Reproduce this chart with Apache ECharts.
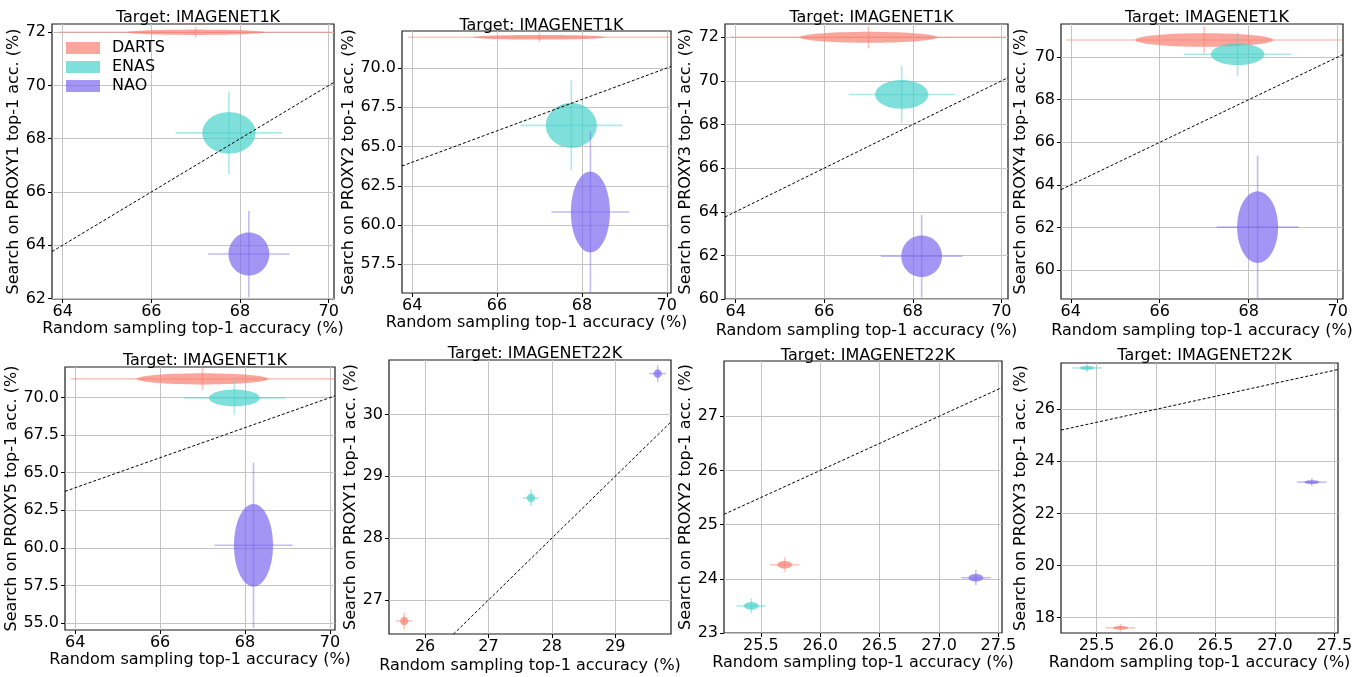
<!DOCTYPE html>
<html><head><meta charset="utf-8">
<script src="https://cdn.jsdelivr.net/npm/echarts@6/dist/echarts.min.js"></script>
<style>html,body{margin:0;padding:0;background:#fff}#c{width:1366px;height:677px}</style>
</head><body><div id="c"></div>
<script>
// ---------- data ----------
const methods = ['DARTS', 'ENAS', 'NAO'];
const targets = ['IMAGENET1K','IMAGENET1K','IMAGENET1K','IMAGENET1K','IMAGENET1K','IMAGENET22K','IMAGENET22K','IMAGENET22K'];
const proxies = ['PROXY1','PROXY2','PROXY3','PROXY4','PROXY5','PROXY1','PROXY2','PROXY3'];

// random sampling top-1 accuracy (x), mean and std per method
const rand1kMean = [67.0, 67.75, 68.2];
const rand1kStd = [1.55, 0.6, 0.46];
const rand22kProxy1Mean = [25.67, 27.67, 29.67];
const rand22kProxy1Std = [0.065, 0.065, 0.065];
const rand22kMean = [25.70, 25.42, 27.31];
const rand22kStd = [0.062, 0.062, 0.062];

// search on proxy top-1 accuracy (y), mean and std per method
const search1kP1Mean = [72.0, 68.22, 63.67];
const search1kP1Std = [0.1, 0.78, 0.81];
const search1kP2Mean = [71.96, 66.35, 60.83];
const search1kP2Std = [0.15, 1.43, 2.57];
const search1kP3Mean = [72.0, 69.38, 61.96];
const search1kP3Std = [0.25, 0.66, 0.95];
const search1kP4Mean = [70.8, 70.13, 62.02];
const search1kP4Std = [0.32, 0.51, 1.68];
const search1kP5Mean = [71.25, 69.98, 60.17];
const search1kP5Std = [0.37, 0.56, 2.75];
const search22kP1Mean = [26.66, 28.65, 30.66];
const search22kP1Std = [0.068, 0.068, 0.068];
const search22kP2Mean = [24.26, 23.50, 24.02];
const search22kP2Std = [0.07, 0.07, 0.07];
const search22kP3Mean = [17.6, 27.59, 23.2];
const search22kP3Std = [0.076, 0.076, 0.076];

// tick labels
const xTicks1k = [64, 66, 68, 70];
const xTicks22kP1 = [26, 27, 28, 29];
const xTicks22k = [25.5, 26.0, 26.5, 27.0, 27.5];
const yTicksP1 = [62, 64, 66, 68, 70, 72];
const yTicksP2 = [57.5, 60.0, 62.5, 65.0, 67.5, 70.0];
const yTicksP3 = [60, 62, 64, 66, 68, 70, 72];
const yTicksP4 = [60, 62, 64, 66, 68, 70];
const yTicksP5 = [55.0, 57.5, 60.0, 62.5, 65.0, 67.5, 70.0];
const yTicks22kP1 = [27, 28, 29, 30];
const yTicks22kP2 = [23, 24, 25, 26, 27];
const yTicks22kP3 = [18, 20, 22, 24, 26];

// ---------- panel configuration ----------
const panels = [
  {xm: rand1kMean, xs: rand1kStd, ym: search1kP1Mean, ys: search1kP1Std, xr:[63.76,70.12], yr:[61.98,72.31], xt: xTicks1k, yt: yTicksP1, xd:0, yd:0},
  {xm: rand1kMean, xs: rand1kStd, ym: search1kP2Mean, ys: search1kP2Std, xr:[63.76,70.10], yr:[55.67,72.36], xt: xTicks1k, yt: yTicksP2, xd:0, yd:1},
  {xm: rand1kMean, xs: rand1kStd, ym: search1kP3Mean, ys: search1kP3Std, xr:[63.76,70.15], yr:[60.0,72.61], xt: xTicks1k, yt: yTicksP3, xd:0, yd:0},
  {xm: rand1kMean, xs: rand1kStd, ym: search1kP4Mean, ys: search1kP4Std, xr:[63.78,70.12], yr:[58.65,71.55], xt: xTicks1k, yt: yTicksP4, xd:0, yd:0},
  {xm: rand1kMean, xs: rand1kStd, ym: search1kP5Mean, ys: search1kP5Std, xr:[63.76,70.12], yr:[54.53,72.04], xt: xTicks1k, yt: yTicksP5, xd:0, yd:1},
  {xm: rand22kProxy1Mean, xs: rand22kProxy1Std, ym: search22kP1Mean, ys: search22kP1Std, xr:[25.43,29.88], yr:[26.45,30.88], xt: xTicks22kP1, yt: yTicks22kP1, xd:0, yd:0},
  {xm: rand22kMean, xs: rand22kStd, ym: search22kP2Mean, ys: search22kP2Std, xr:[25.19,27.53], yr:[23.0,28.02], xt: xTicks22k, yt: yTicks22kP2, xd:1, yd:0},
  {xm: rand22kMean, xs: rand22kStd, ym: search22kP3Mean, ys: search22kP3Std, xr:[25.2,27.53], yr:[17.4,27.78], xt: xTicks22k, yt: yTicks22kP3, xd:1, yd:0}
];
// layout: [left, top, width, height, xNameGap, yNameGap, titleTop]
const layout = [
  [52, 24, 282, 275, 22, 29, 5],
  [402, 31, 269, 262, 21, 42, 13],
  [725, 24, 283, 275, 24, 31, 5],
  [1061, 24, 282, 275, 24, 32, 5],
  [65, 367, 270, 263, 20, 42, 348],
  [389, 360, 282, 274, 24, 29, 341],
  [724, 361, 278, 272, 22, 29, 343],
  [1061, 363, 277, 270, 20, 32, 343]
];

const fills = ['rgba(250,128,114,0.7)', 'rgba(72,209,204,0.7)', 'rgba(123,104,238,0.7)'];
const errs = ['rgba(250,128,114,0.45)', 'rgba(72,209,204,0.45)', 'rgba(123,104,238,0.45)'];
const FONT = 'DejaVu Sans';

function makeRender(mi) {
  return function (params, api) {
    const cx = api.value(0), cy = api.value(1), sx = api.value(2), sy = api.value(3);
    const pts = [];
    for (let k = 0; k < 72; k++) {
      const t = 2 * Math.PI * k / 72;
      pts.push(api.coord([cx + sx * Math.cos(t), cy + sy * Math.sin(t)]));
    }
    const l = api.coord([cx - 2 * sx, cy]), r = api.coord([cx + 2 * sx, cy]);
    const b = api.coord([cx, cy - 2 * sy]), tp = api.coord([cx, cy + 2 * sy]);
    return {
      type: 'group',
      children: [
        {type: 'line', shape: {x1: l[0], y1: l[1], x2: r[0], y2: r[1]}, style: {stroke: errs[mi], lineWidth: 1.6}},
        {type: 'line', shape: {x1: b[0], y1: b[1], x2: tp[0], y2: tp[1]}, style: {stroke: errs[mi], lineWidth: 1.6}},
        {type: 'polygon', shape: {points: pts}, style: {fill: fills[mi], stroke: null}}
      ]
    };
  };
}

const grid = [], xAxis = [], yAxis = [], series = [], title = [];
panels.forEach((p, i) => {
  const L = layout[i];
  grid.push({left: L[0], top: L[1], width: L[2], height: L[3], show: true, borderColor: '#1a1a1a', borderWidth: 1.2, backgroundColor: 'transparent', containLabel: false});
  title.push({text: 'Target: ' + targets[i], left: L[0] + L[2] / 2, top: L[6], textAlign: 'center',
    textStyle: {fontFamily: FONT, fontSize: 16, fontWeight: 'normal', color: '#000'}});
  const gl = {show: true, lineStyle: {color: '#c4c4c4', width: 1}};
  xAxis.push({
    type: 'value', gridIndex: i, min: p.xr[0], max: p.xr[1],
    name: 'Random sampling top-1 accuracy (%)', nameLocation: 'middle', nameGap: L[4],
    nameTextStyle: {fontFamily: FONT, fontSize: 16, color: '#000'},
    axisLine: {show: false},
    axisTick: {show: true, inside: false, length: 4, customValues: p.xt, lineStyle: {color: '#000'}},
    axisLabel: {customValues: p.xt, fontFamily: FONT, fontSize: 16, color: '#000', margin: 5,
      formatter: v => v.toFixed(p.xd)},
    splitLine: gl
  });
  yAxis.push({
    type: 'value', gridIndex: i, min: p.yr[0], max: p.yr[1],
    name: 'Search on ' + proxies[i] + ' top-1 acc. (%)', nameLocation: 'middle', nameGap: L[5], nameRotate: 90,
    nameTextStyle: {fontFamily: FONT, fontSize: 16, color: '#000'},
    axisLine: {show: false},
    axisTick: {show: true, inside: false, length: 4, customValues: p.yt, lineStyle: {color: '#000'}},
    axisLabel: {customValues: p.yt, fontFamily: FONT, fontSize: 16, color: '#000', margin: 6,
      formatter: v => v.toFixed(p.yd)},
    splitLine: gl
  });
  methods.forEach((m, mi) => {
    series.push({
      type: 'custom', name: m, xAxisIndex: i, yAxisIndex: i, clip: true, z: 2 + mi,
      itemStyle: {color: fills[mi]},
      renderItem: makeRender(mi),
      encode: {x: 0, y: 1},
      data: [[p.xm[mi], p.ym[mi], p.xs[mi], p.ys[mi]]]
    });
  });
  series.push({
    type: 'line', xAxisIndex: i, yAxisIndex: i, symbol: 'none', silent: true, clip: true, z: 10,
    lineStyle: {color: '#000', width: 1, type: [3, 2]},
    data: [[p.xr[0], p.xr[0]], [p.xr[1], p.xr[1]]]
  });
});

const chart = echarts.init(document.getElementById('c'), null, {renderer: 'canvas'});
chart.setOption({
  animation: false,
  backgroundColor: '#fff',
  title: title,
  grid: grid, xAxis: xAxis, yAxis: yAxis, series: series,
  legend: {
    data: methods, orient: 'vertical', left: 66, top: 40, padding: 0, itemGap: 3,
    icon: 'rect', itemWidth: 34, itemHeight: 12,
    textStyle: {fontFamily: FONT, fontSize: 16, color: '#000', padding: [0, 0, 0, 7], lineHeight: 12}
  }
});
</script></body></html>
